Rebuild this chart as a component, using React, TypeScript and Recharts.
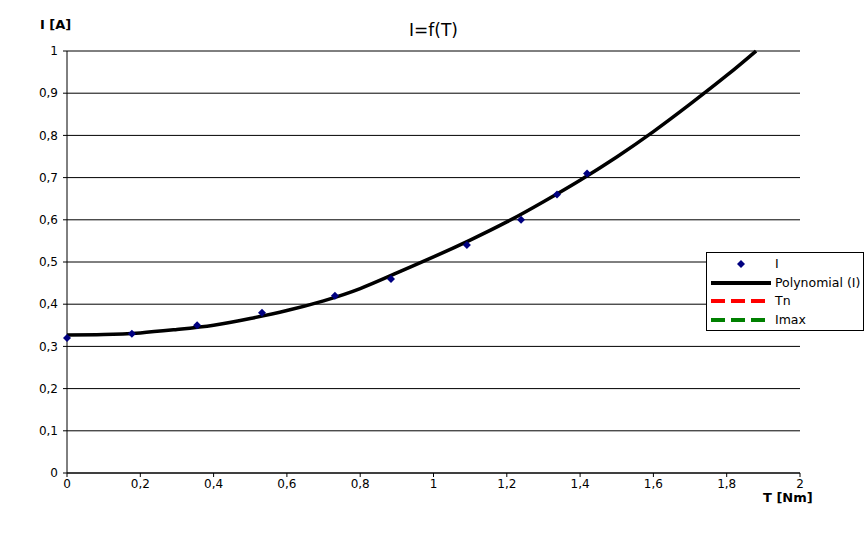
import React from 'react'
import {
  ComposedChart,
  Line,
  Scatter,
  XAxis,
  YAxis,
  CartesianGrid,
} from 'recharts'

const measuredT = [0, 0.177, 0.355, 0.532, 0.731, 0.884, 1.091, 1.239, 1.337, 1.419]
const measuredI = [0.32, 0.33, 0.35, 0.38, 0.42, 0.46, 0.54, 0.6, 0.66, 0.71]

const trendT = [0, 0.1, 0.2, 0.3, 0.4, 0.5, 0.6, 0.7, 0.8, 0.9, 1.0, 1.1, 1.2, 1.3, 1.4, 1.5, 1.6, 1.7, 1.8, 1.88]
const trendI = [0.327, 0.328, 0.332, 0.34, 0.35, 0.366, 0.385, 0.408, 0.437, 0.474, 0.512, 0.552, 0.595, 0.643, 0.694, 0.749, 0.809, 0.874, 0.942, 1.0]

const xTicks = [0, 0.2, 0.4, 0.6, 0.8, 1, 1.2, 1.4, 1.6, 1.8, 2]
const yTicks = [0, 0.1, 0.2, 0.3, 0.4, 0.5, 0.6, 0.7, 0.8, 0.9, 1]

const measured = measuredT.map((t, i) => ({ t, i: measuredI[i] }))
const trend = trendT.map((t, i) => ({ t, p: trendI[i] }))

const FONT = '"DejaVu Sans", Verdana, sans-serif'
const fmt = (v: number) => String(v).replace('.', ',')

const Diamond = (props: any) => {
  const { cx, cy } = props
  if (cx == null || cy == null) return null
  return <polygon points={`${cx},${cy - 4} ${cx + 4},${cy} ${cx},${cy + 4} ${cx - 4},${cy}`} fill="#000080" />
}

const legendItems = [
  { name: 'I', kind: 'dot', color: '#000080' },
  { name: 'Polynomial (I)', kind: 'solid', color: '#000' },
  { name: 'Tn', kind: 'dash', color: '#ff0000' },
  { name: 'Imax', kind: 'dash', color: '#008000' },
]

export default function App() {
  return (
    <div style={{ position: 'absolute', left: 0, top: 0, width: 867, height: 548, background: '#fff', fontFamily: FONT }}>
      <ComposedChart width={867} height={548} margin={{ top: 51, right: 67, left: 0, bottom: 45 }}>
        <CartesianGrid vertical={false} stroke="#000" strokeWidth={1} />
        <XAxis
          type="number"
          dataKey="t"
          domain={[0, 2]}
          ticks={xTicks}
          tickFormatter={fmt}
          stroke="#000"
          tickSize={4}
          height={30}
          tick={{ fontSize: 12, fill: '#000', fontFamily: FONT }}
          allowDuplicatedCategory={false}
        />
        <YAxis
          type="number"
          domain={[0, 1]}
          ticks={yTicks}
          tickFormatter={fmt}
          stroke="#000"
          tickSize={4}
          tickMargin={5}
          width={67}
          tick={{ fontSize: 12, fill: '#000', fontFamily: FONT }}
        />
        <Line
          data={trend}
          dataKey="p"
          type="natural"
          stroke="#000"
          strokeWidth={3.5}
          dot={false}
          isAnimationActive={false}
        />
        <Scatter data={measured} dataKey="i" shape={Diamond} isAnimationActive={false} />
      </ComposedChart>

      <div style={{ position: 'absolute', left: 0, width: 867, top: 20, textAlign: 'center', fontSize: 17 }}>I=f(T)</div>
      <div style={{ position: 'absolute', left: 40, top: 17, fontSize: 13, fontWeight: 'bold' }}>I [A]</div>
      <div style={{ position: 'absolute', left: 763, top: 490, fontSize: 13, fontWeight: 'bold' }}>T [Nm]</div>

      <div
        style={{
          position: 'absolute',
          left: 706,
          top: 252,
          width: 156,
          height: 77,
          border: '1px solid #000',
          background: '#fff',
          fontSize: 12.5,
        }}
      >
        {legendItems.map((it, k) => (
          <div key={it.name} style={{ position: 'absolute', left: 0, top: 2 + k * 18.7, height: 19, width: 156 }}>
            <svg width={60} height={19} style={{ position: 'absolute', left: 4, top: 0 }}>
              {it.kind === 'dot' && <polygon points="30,5 34,9 30,13 26,9" fill={it.color} />}
              {it.kind === 'solid' && <line x1={0} x2={60} y1={9} y2={9} stroke={it.color} strokeWidth={4} />}
              {it.kind === 'dash' && (
                <line x1={0} x2={60} y1={9} y2={9} stroke={it.color} strokeWidth={4} strokeDasharray="14 6" />
              )}
            </svg>
            <span style={{ position: 'absolute', left: 68, top: 1 }}>{it.name}</span>
          </div>
        ))}
      </div>
    </div>
  )
}
